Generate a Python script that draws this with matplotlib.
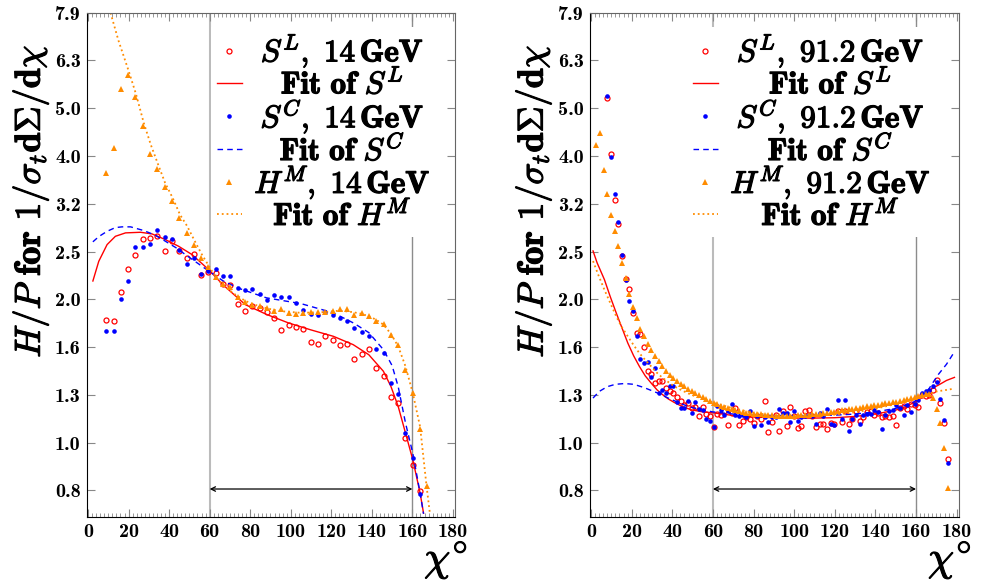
import numpy as np
import matplotlib
matplotlib.use('Agg')
import matplotlib.pyplot as plt
import matplotlib.patheffects as pe
from matplotlib.ticker import MultipleLocator, NullLocator
from matplotlib.offsetbox import VPacker

plt.rcParams['mathtext.fontset'] = 'cm'
plt.rcParams['font.family'] = ['cmb10', 'DejaVu Serif']

# ---- 14 GeV panel, 50 bins of 3.6 deg (first shown bin is the 3rd one) ----
SL_14 = [1.81, 1.80, 2.065, 2.31, 2.47, 2.67, 2.68, 2.71, 2.52, 2.64, 2.525, 2.44, 2.48, 2.24,
         2.28, 2.27, 2.15, 2.14, 1.955, 1.89, 1.93, 1.91, 1.88, 1.824, 1.722, 1.761, 1.744, 1.733,
         1.627, 1.609, 1.670, 1.638, 1.599, 1.612, 1.50, 1.534, 1.568, 1.431, 1.377, 1.244, 1.209,
         1.021, 0.896, 0.793]
SC_14 = [1.711, 1.716, 2.003, 2.184, 2.564, 2.564, 2.61, 2.789, 2.69, 2.67, 2.53, 2.371, 2.44, 2.255,
         2.292, 2.31, 2.234, 2.237, 2.109, 2.084, 2.101, 2.048, 1.993, 2.035, 2.015, 2.015, 1.961,
         1.892, 1.856, 1.851, 1.88, 1.849, 1.821, 1.795, 1.739, 1.708, 1.675, 1.571, 1.541, 1.331,
         1.266, 1.048, 0.930, 0.781]
HM_14 = [3.66, 4.13, 5.49, 5.87, 5.30, 4.61, 4.03, 3.74, 3.43, 3.21, 2.955, 2.75, 2.59, 2.43, 2.33,
         2.22, 2.15, 2.12, 2.02, 1.97, 1.945, 1.93, 1.91, 1.89, 1.905, 1.87, 1.86, 1.87, 1.875, 1.875,
         1.88, 1.888, 1.908, 1.905, 1.85, 1.872, 1.845, 1.795, 1.769, 1.681, 1.602, 1.422, 1.27,
         1.07, 0.81]

# fitted curves
SL_fit14_x = [2.4, 5.3, 9.4, 13.5, 18.5, 25.9, 31.6, 38.2, 44.7, 51.3, 59.5, 66.6, 77.6, 88.3, 98.9,
              109.6, 121, 130.8, 138.5, 145.7, 149.4, 153, 156.6, 160.2, 163.8, 165.5]
SL_fit14_y = [2.18, 2.397, 2.598, 2.704, 2.749, 2.757, 2.735, 2.661, 2.577, 2.476, 2.303, 2.14, 1.945,
              1.854, 1.781, 1.724, 1.670, 1.604, 1.528, 1.411, 1.312, 1.191, 1.048, 0.921, 0.785, 0.712]
SC_fit14_x = [2.4, 5.3, 9.4, 13.5, 16.8, 21, 27.5, 33, 38.2, 44, 48, 55, 60, 66.7, 75, 88, 105, 121,
              131, 138.5, 145.7, 150, 153, 156.6, 160.2, 163.8, 165.5]
SC_fit14_y = [2.633, 2.70, 2.77, 2.82, 2.83, 2.83, 2.78, 2.72, 2.64, 2.55, 2.476, 2.36, 2.28, 2.18,
              2.10, 2.01, 1.955, 1.87, 1.78, 1.70, 1.566, 1.45, 1.31, 1.10, 0.95, 0.785, 0.71]
HM_fit14_x = [11.1, 15, 20.1, 23.7, 27.5, 31, 34.6, 38, 41.8, 45.4, 48.9, 52.5, 56.1, 59.7, 63, 67,
              72, 77.6, 83, 88.3, 95, 105, 115, 124.3, 130.8, 135, 138.5, 142, 145.7, 149.4, 153,
              156.6, 160.2, 163.8, 167, 168.6]
HM_fit14_y = [7.94, 6.95, 5.99, 5.36, 4.67, 4.2, 3.82, 3.5, 3.25, 3.0, 2.84, 2.65, 2.48, 2.34, 2.22,
              2.13, 2.05, 1.98, 1.94, 1.91, 1.885, 1.87, 1.875, 1.89, 1.876, 1.86, 1.84, 1.81, 1.767,
              1.69, 1.591, 1.445, 1.27, 1.08, 0.81, 0.713]

# ---- 91.2 GeV panel, 100 bins of 1.8 deg ----
SL_91 = [5.26, 4.02, 3.22, 2.87, 2.456, 2.20, 2.099, 1.87, 1.70, 1.687, 1.583, 1.411, 1.39, 1.331,
         1.348, 1.348, 1.304, 1.28, 1.27, 1.244, 1.22, 1.197, 1.21, 1.182, 1.19, 1.139, 1.188, 1.148,
         1.135, 1.078, 1.15, 1.145, 1.163, 1.091, 1.154, 1.182, 1.091, 1.108, 1.13, 1.121, 1.099,
         1.137, 1.12, 1.22, 1.051, 1.103, 1.145, 1.056, 1.167, 1.082, 1.188, 1.136, 1.073, 1.082,
         1.167, 1.169, 1.136, 1.078, 1.094, 1.094, 1.07, 1.099, 1.094, 1.163, 1.103, 1.167, 1.094,
         1.123, 1.167, 1.108, 1.134, 1.158, 1.167, 1.141, 1.154, 1.130, 1.136, 1.134, 1.136, 1.091,
         1.182, 1.191, 1.178, 1.205, 1.2, 1.186, 1.26, 1.25, 1.256, 1.291, 1.355, 1.211, 1.10, 0.926]
SC_91 = [5.31, 3.96, 3.31, 2.893, 2.476, 2.194, 1.983, 1.884, 1.67, 1.497, 1.468, 1.478, 1.37, 1.431,
         1.273, 1.291, 1.27, 1.312, 1.312, 1.219, 1.18, 1.18, 1.225, 1.154, 1.215, 1.176, 1.169, 1.123,
         1.108, 1.077, 1.191, 1.173, 1.145, 1.163, 1.205, 1.141, 1.136, 1.141, 1.13, 1.163, 1.082,
         1.136, 1.087, 1.130, 1.105, 1.130, 1.130, 1.176, 1.152, 1.152, 1.105, 1.167, 1.108, 1.130,
         1.136, 1.145, 1.14, 1.094, 1.154, 1.136, 1.178, 1.094, 1.087, 1.227, 1.123, 1.227, 1.056,
         1.121, 1.145, 1.094, 1.141, 1.148, 1.148, 1.169, 1.16, 1.07, 1.145, 1.163, 1.17, 1.201, 1.18,
         1.145, 1.2, 1.159, 1.205, 1.23, 1.271, 1.285, 1.291, 1.316, 1.338, 1.235, 1.117, 0.909]
HM_91 = [4.19, 4.44, 3.73, 3.31, 3.00, 2.77, 2.585, 2.378, 2.213, 2.05, 1.923, 1.824, 1.733, 1.670,
         1.609, 1.566, 1.521, 1.483, 1.445, 1.413, 1.388, 1.368, 1.348, 1.329, 1.312, 1.297, 1.285,
         1.273, 1.26, 1.245, 1.232, 1.222, 1.212, 1.203, 1.195, 1.188, 1.181, 1.176, 1.170, 1.165,
         1.160, 1.156, 1.152, 1.150, 1.147, 1.146, 1.144, 1.142, 1.142, 1.140, 1.140, 1.140, 1.139,
         1.140, 1.140, 1.141, 1.142, 1.143, 1.145, 1.147, 1.148, 1.150, 1.153, 1.155, 1.158, 1.161,
         1.164, 1.168, 1.171, 1.174, 1.177, 1.181, 1.184, 1.187, 1.191, 1.194, 1.197, 1.201, 1.204,
         1.208, 1.211, 1.215, 1.219, 1.224, 1.229, 1.234, 1.239, 1.244, 1.250, 1.256, 1.262, 1.262,
         1.24, 1.178, 1.10, 0.975, 0.804]

SL_fit91_x = [1.0, 3, 6.6, 9.5, 12.4, 15, 18.1, 21, 23.8, 26.7, 29.6, 32.5, 35.3, 38, 41, 45, 49.3,
              55, 60.8, 70, 80, 90, 100, 110, 120, 130, 140, 150, 155, 160, 165, 168, 171, 175, 178.9]
SL_fit91_y = [2.52, 2.38, 2.195, 2.02, 1.87, 1.75, 1.617, 1.52, 1.445, 1.38, 1.333, 1.29, 1.26, 1.235,
              1.214, 1.19, 1.172, 1.16, 1.154, 1.14, 1.132, 1.128, 1.126, 1.126, 1.128, 1.135, 1.148,
              1.17, 1.19, 1.22, 1.26, 1.30, 1.32, 1.35, 1.37]
SC_fit91_x = [1.0, 4, 8, 12, 16.5, 21, 26, 32.9, 38, 42.8, 48, 54.2, 60, 70, 80, 90, 100, 110, 120,
              130, 140, 150, 158, 165, 168, 171, 175, 178.9]
SC_fit91_y = [1.24, 1.28, 1.31, 1.325, 1.33, 1.325, 1.305, 1.27, 1.24, 1.215, 1.19, 1.172, 1.16,
              1.148, 1.142, 1.14, 1.14, 1.14, 1.142, 1.148, 1.16, 1.18, 1.21, 1.27, 1.33, 1.39, 1.46,
              1.55]
HM_fit91_x = [1.0, 3.5, 6.6, 9.5, 12.4, 15, 18.1, 21, 23.8, 26.7, 29.6, 32.5, 35.3, 38, 41, 45, 49.3,
              55, 60.8, 70, 80, 90, 100, 110, 120, 130, 140, 150, 160, 165, 170, 175, 178.5]
HM_fit91_y = [2.40, 2.25, 2.09, 1.96, 1.839, 1.75, 1.67, 1.60, 1.54, 1.49, 1.445, 1.40, 1.366, 1.34,
              1.312, 1.285, 1.26, 1.235, 1.211, 1.18, 1.155, 1.14, 1.136, 1.137, 1.145, 1.158, 1.178,
              1.205, 1.24, 1.26, 1.28, 1.29, 1.297]

ytick_labels = ['0.8', '1.0', '1.3', '1.6', '2.0', '2.5', '3.2', '4.0', '5.0', '6.3', '7.9']
ytick_vals = 10 ** (np.arange(-1, 10) / 10)

BOLD = [pe.withStroke(linewidth=0.8, foreground='black')]
BOLD_LEG = [pe.withStroke(linewidth=0.9, foreground='black')]


def style_axes(ax):
    ax.set_yscale('log')
    ax.set_xlim(-0.5, 181)
    ax.set_ylim(0.70, ytick_vals[-1])
    ax.set_yticks(ytick_vals)
    ax.set_yticklabels(ytick_labels)
    ax.yaxis.set_minor_locator(NullLocator())
    ax.set_xticks(np.arange(0, 181, 20))
    ax.xaxis.set_minor_locator(MultipleLocator(2))
    ax.tick_params(which='both', direction='in', top=True, right=True, color='#888888',
                   labelsize=14.5, pad=4.5)
    ax.tick_params(which='major', length=6, width=0.8)
    ax.tick_params(which='minor', length=3, width=0.6)
    for side in ['left', 'bottom']:
        ax.spines[side].set_color('black')
    for side in ['top', 'right']:
        ax.spines[side].set_color('#666666')
    ax.axvline(60, color='#bbbbbb', lw=1.5, zorder=0)
    ax.axvline(160, color='#8c8c8c', lw=1.0, zorder=0)
    ax.annotate('', xy=(60, 0.8), xytext=(160, 0.8),
                arrowprops=dict(arrowstyle='<->', color='black', lw=0.9,
                                shrinkA=0, shrinkB=0, mutation_scale=8))


def centre_legend_text(leg, renderer):
    # legend entries are centred on a common width, handles stay left
    items = [it for col in leg._legend_handle_box.get_children() for it in col.get_children()]
    w = max(it.get_children()[1].get_bbox(renderer).width for it in items)
    for it in items:
        handle, text = it.get_children()
        box = VPacker(pad=0, sep=0, width=w, align='center', children=[text])
        it._children = [handle, box]


def draw_panel(ax, x_s, SL, SC, x_h, HM, fits, energy, leg_x):
    l1, = ax.plot(x_s, SL, 'o', mfc='none', mec='red', ms=3.6, mew=0.9)
    l2, = ax.plot(fits[0][0], fits[0][1], '-', color='red', lw=1.0)
    l3, = ax.plot(x_s, SC, 'o', color='blue', ms=3.3, mew=0)
    l4, = ax.plot(fits[1][0], fits[1][1], '--', color='blue', lw=1.0, dashes=(4, 3))
    l5, = ax.plot(x_h, HM, '^', color='darkorange', ms=3.8, mew=0)
    l6, = ax.plot(fits[2][0], fits[2][1], ':', color='darkorange', lw=1.3)
    labels = [r'$S^{L}\mathbf{,\ %s\,GeV}$' % energy, r'$\mathbf{Fit\ of}\ S^{L}$',
              r'$S^{C}\mathbf{,\ %s\,GeV}$' % energy, r'$\mathbf{Fit\ of}\ S^{C}$',
              r'$H^{M}\mathbf{,\ %s\,GeV}$' % energy, r'$\mathbf{Fit\ of}\ H^{M}$']
    leg = ax.legend([l1, l2, l3, l4, l5, l6], labels, loc='upper left',
                    bbox_to_anchor=(leg_x, 0.972), fontsize=22.5, frameon=True,
                    facecolor='white', edgecolor='none', framealpha=1, fancybox=False,
                    borderpad=0.2, handlelength=0.8, handletextpad=0.4, labelspacing=-0.05,
                    numpoints=1, borderaxespad=0)
    for t in leg.get_texts():
        t.set_path_effects(BOLD_LEG)
    ax.set_ylabel(r'$H/P\ \mathbf{for}\ \mathbf{1}/\sigma_t\mathbf{d}\Sigma/\mathbf{d}\chi$',
                  fontsize=26, va='center', path_effects=BOLD)
    ax.yaxis.set_label_coords(-0.153, 0.626)
    ax.set_xlabel(r'$\chi^{\circ}$', fontsize=30, ha='right', va='top', path_effects=BOLD)
    ax.xaxis.set_label_coords(1.035, -0.045)
    return leg


if __name__ == "__main__":
    fig = plt.figure(figsize=(9.82, 5.83), dpi=100)
    ax_l = fig.add_axes([0.0886, 0.1137, 0.3747, 0.8645])
    ax_r = fig.add_axes([0.6008, 0.1137, 0.3755, 0.8645])
    style_axes(ax_l)
    style_axes(ax_r)

    chi_14 = 1.8 + 3.6 * np.arange(2, 2 + len(SL_14))
    chi_14_h = 1.8 + 3.6 * np.arange(2, 2 + len(HM_14))
    chi_91 = 0.9 + 1.8 * np.arange(4, 4 + len(SL_91))
    chi_91_h = 0.9 + 1.8 * np.arange(1, 1 + len(HM_91))

    leg_l = draw_panel(ax_l, chi_14, SL_14, SC_14, chi_14_h, HM_14,
                       [(SL_fit14_x, SL_fit14_y), (SC_fit14_x, SC_fit14_y), (HM_fit14_x, HM_fit14_y)],
                       '14', 0.336)
    leg_r = draw_panel(ax_r, chi_91, SL_91, SC_91, chi_91_h, HM_91,
                       [(SL_fit91_x, SL_fit91_y), (SC_fit91_x, SC_fit91_y), (HM_fit91_x, HM_fit91_y)],
                       '91.2', 0.262)

    renderer = fig.canvas.get_renderer()
    centre_legend_text(leg_l, renderer)
    centre_legend_text(leg_r, renderer)

    fig.savefig('out.png', dpi=100)
